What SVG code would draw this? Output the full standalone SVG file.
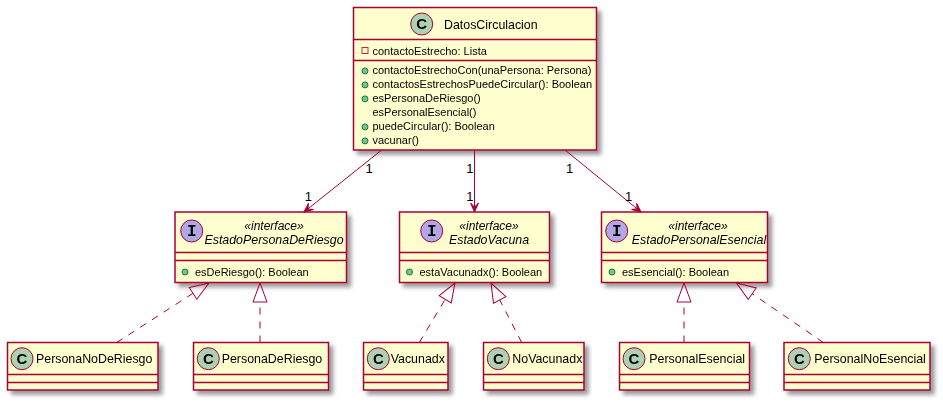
<svg xmlns="http://www.w3.org/2000/svg" width="943" height="403" viewBox="0 0 943 403">
<defs>
<filter id="sh" x="-10%" y="-10%" width="130%" height="140%">
<feGaussianBlur in="SourceAlpha" stdDeviation="2"/>
<feOffset dx="4" dy="4" result="o"/>
<feComponentTransfer><feFuncA type="linear" slope="0.4"/></feComponentTransfer>
<feMerge><feMergeNode/><feMergeNode in="SourceGraphic"/></feMerge>
</filter>
<marker id="arr" viewBox="-10 -5 11 10" refX="0" refY="0" markerWidth="11" markerHeight="10" markerUnits="userSpaceOnUse" orient="auto" overflow="visible">
<path d="M0,0 L-9,-4 L-5,0 L-9,4 Z" fill="#A80036" stroke="#A80036" stroke-width="1"/>
</marker>
<marker id="tri" viewBox="0 -8 20 16" refX="0" refY="0" markerWidth="20" markerHeight="16" markerUnits="userSpaceOnUse" orient="auto" overflow="visible">
<path d="M0,-7 L19,0 L0,7 Z" fill="none" stroke="#A80036" stroke-width="1"/>
</marker>
</defs>
<style>
.box{fill:#FEFECE;stroke:#A80036;stroke-width:1.5;}
.sep{stroke:#A80036;stroke-width:1.5;}
.cc{fill:#ADD1B2;stroke:#A80036;stroke-width:1;}
.ci{fill:#B4A7E5;stroke:#A80036;stroke-width:1;}
.lc{font-family:"Liberation Sans",Arial,sans-serif;font-weight:bold;font-size:15px;fill:#000;text-anchor:middle;}
.li{font-family:"Liberation Mono","Courier New",monospace;font-weight:bold;font-size:16px;fill:#000;text-anchor:middle;}
.nm{font-family:"Liberation Sans",Arial,sans-serif;font-size:12.4px;fill:#000;}
.it{font-family:"Liberation Sans",Arial,sans-serif;font-size:12.4px;font-style:italic;fill:#000;text-anchor:middle;}
.st{font-family:"Liberation Sans",Arial,sans-serif;font-size:12px;font-style:italic;fill:#000;text-anchor:middle;}
.mb{font-family:"Liberation Sans",Arial,sans-serif;font-size:11px;fill:#000;}
.pub{fill:#84BE84;stroke:#038048;stroke-width:1;}
.priv{fill:none;stroke:#C82930;stroke-width:1;}
.as{fill:none;stroke:#A80036;stroke-width:1;}
.re{fill:none;stroke:#A80036;stroke-width:1;stroke-dasharray:7,7;}
.lbl{font-family:"Liberation Sans",Arial,sans-serif;font-size:13px;fill:#000;}
</style>

<g id="DatosCirculacion" filter="url(#sh)">
<rect class="box" x="353.5" y="7.5" width="243" height="142.5"/>
<circle class="cc" cx="421.7" cy="24" r="11"/>
<text class="lc" x="421.7" y="29.3">C</text>
<text class="nm" x="444" y="28.5">DatosCirculacion</text>
<line class="sep" x1="353.5" y1="39.5" x2="596.5" y2="39.5"/>
<rect class="priv" x="362" y="47.5" width="6" height="6"/>
<text class="mb" x="372.5" y="54.7">contactoEstrecho: Lista</text>
<line class="sep" x1="353.5" y1="60.5" x2="596.5" y2="60.5"/>
<circle class="pub" cx="365" cy="70.9" r="3"/>
<text class="mb" x="372.5" y="74.4">contactoEstrechoCon(unaPersona: Persona)</text>
<circle class="pub" cx="365" cy="84.9" r="3"/>
<text class="mb" x="372.5" y="88.4">contactosEstrechosPuedeCircular(): Boolean</text>
<circle class="pub" cx="365" cy="98.9" r="3"/>
<text class="mb" x="372.5" y="102.4">esPersonaDeRiesgo()</text>
<text class="mb" x="372.5" y="116.4">esPersonalEsencial()</text>
<circle class="pub" cx="365" cy="126.9" r="3"/>
<text class="mb" x="372.5" y="130.4">puedeCircular(): Boolean</text>
<circle class="pub" cx="365" cy="140.9" r="3"/>
<text class="mb" x="372.5" y="144.4">vacunar()</text>
</g>

<g id="EstadoPersonaDeRiesgo" filter="url(#sh)">
<rect class="box" x="175" y="212" width="171.5" height="70.5"/>
<circle class="ci" cx="191.7" cy="231" r="11"/>
<text class="li" x="191.7" y="236.3">I</text>
<text class="st" x="274" y="229.5">«interface»</text>
<text class="it" x="274" y="243.5">EstadoPersonaDeRiesgo</text>
<line class="sep" x1="175" y1="252.5" x2="346.5" y2="252.5"/>
<line class="sep" x1="175" y1="260.5" x2="346.5" y2="260.5"/>
<circle class="pub" cx="185" cy="272" r="3"/>
<text class="mb" x="195" y="275.5">esDeRiesgo(): Boolean</text>
</g>

<g id="EstadoVacuna" filter="url(#sh)">
<rect class="box" x="399.5" y="212" width="150" height="70.5"/>
<circle class="ci" cx="431.7" cy="231" r="11"/>
<text class="li" x="431.7" y="236.3">I</text>
<text class="st" x="489" y="229.5">«interface»</text>
<text class="it" x="489" y="243.5">EstadoVacuna</text>
<line class="sep" x1="399.5" y1="252.5" x2="549.5" y2="252.5"/>
<line class="sep" x1="399.5" y1="260.5" x2="549.5" y2="260.5"/>
<circle class="pub" cx="409.5" cy="272" r="3"/>
<text class="mb" x="419.5" y="275.5">estaVacunadx(): Boolean</text>
</g>

<g id="EstadoPersonalEsencial" filter="url(#sh)">
<rect class="box" x="601.5" y="212" width="166" height="70.5"/>
<circle class="ci" cx="616.7" cy="231" r="11"/>
<text class="li" x="616.7" y="236.3">I</text>
<text class="st" x="698" y="229.5">«interface»</text>
<text class="it" x="699" y="243.5">EstadoPersonalEsencial</text>
<line class="sep" x1="601.5" y1="252.5" x2="767.5" y2="252.5"/>
<line class="sep" x1="601.5" y1="260.5" x2="767.5" y2="260.5"/>
<circle class="pub" cx="612" cy="272" r="3"/>
<text class="mb" x="622" y="275.5">esEsencial(): Boolean</text>
</g>

<g id="PersonaNoDeRiesgo" filter="url(#sh)">
<rect class="box" x="7.5" y="342.5" width="150.5" height="47.5"/>
<circle class="cc" cx="22" cy="358.7" r="11"/>
<text class="lc" x="22" y="364">C</text>
<text class="nm" x="36" y="363">PersonaNoDeRiesgo</text>
<line class="sep" x1="7.5" y1="374.5" x2="158" y2="374.5"/>
<line class="sep" x1="7.5" y1="382.5" x2="158" y2="382.5"/>
</g>

<g id="PersonaDeRiesgo" filter="url(#sh)">
<rect class="box" x="193.5" y="342.5" width="135" height="47.5"/>
<circle class="cc" cx="208.3" cy="358.7" r="11"/>
<text class="lc" x="208.3" y="364">C</text>
<text class="nm" x="221.7" y="363">PersonaDeRiesgo</text>
<line class="sep" x1="193.5" y1="374.5" x2="328.5" y2="374.5"/>
<line class="sep" x1="193.5" y1="382.5" x2="328.5" y2="382.5"/>
</g>

<g id="Vacunadx" filter="url(#sh)">
<rect class="box" x="363.5" y="342.5" width="84.5" height="47.5"/>
<circle class="cc" cx="378.3" cy="358.7" r="11"/>
<text class="lc" x="378.3" y="364">C</text>
<text class="nm" x="390.7" y="363">Vacunadx</text>
<line class="sep" x1="363.5" y1="374.5" x2="448" y2="374.5"/>
<line class="sep" x1="363.5" y1="382.5" x2="448" y2="382.5"/>
</g>

<g id="NoVacunadx" filter="url(#sh)">
<rect class="box" x="483.5" y="342.5" width="100.5" height="47.5"/>
<circle class="cc" cx="498.3" cy="358.7" r="11"/>
<text class="lc" x="498.3" y="364">C</text>
<text class="nm" x="512.3" y="363">NoVacunadx</text>
<line class="sep" x1="483.5" y1="374.5" x2="584" y2="374.5"/>
<line class="sep" x1="483.5" y1="382.5" x2="584" y2="382.5"/>
</g>

<g id="PersonalEsencial" filter="url(#sh)">
<rect class="box" x="619.5" y="342.5" width="130" height="47.5"/>
<circle class="cc" cx="634" cy="358.7" r="11"/>
<text class="lc" x="634" y="364">C</text>
<text class="nm" x="649.3" y="363">PersonalEsencial</text>
<line class="sep" x1="619.5" y1="374.5" x2="749.5" y2="374.5"/>
<line class="sep" x1="619.5" y1="382.5" x2="749.5" y2="382.5"/>
</g>

<g id="PersonalNoEsencial" filter="url(#sh)">
<rect class="box" x="784" y="342.5" width="146" height="47.5"/>
<circle class="cc" cx="799.3" cy="358.7" r="11"/>
<text class="lc" x="799.3" y="364">C</text>
<text class="nm" x="814.3" y="363">PersonalNoEsencial</text>
<line class="sep" x1="784" y1="374.5" x2="930" y2="374.5"/>
<line class="sep" x1="784" y1="382.5" x2="930" y2="382.5"/>
</g>

<g id="connectors">
<line class="as" x1="381.7" y1="150" x2="304" y2="212" marker-end="url(#arr)"/>
<line class="as" x1="474.5" y1="150" x2="474.5" y2="212" marker-end="url(#arr)"/>
<line class="as" x1="565" y1="150" x2="641" y2="212" marker-end="url(#arr)"/>
<text class="lbl" x="365.5" y="172.7">1</text>
<text class="lbl" x="304.8" y="200.7">1</text>
<text class="lbl" x="466.3" y="172.7">1</text>
<text class="lbl" x="466.3" y="200.7">1</text>
<text class="lbl" x="566" y="172.7">1</text>
<text class="lbl" x="625" y="200.7">1</text>
<line class="re" x1="116.7" y1="342.5" x2="193" y2="293.3" marker-end="url(#tri)"/>
<line class="re" x1="260" y1="342.5" x2="260" y2="302" marker-end="url(#tri)"/>
<line class="re" x1="419.3" y1="342.5" x2="445.2" y2="299.3" marker-end="url(#tri)"/>
<line class="re" x1="521.7" y1="342.5" x2="499.7" y2="299.9" marker-end="url(#tri)"/>
<line class="re" x1="684" y1="342.5" x2="684" y2="302" marker-end="url(#tri)"/>
<line class="re" x1="823.3" y1="342.5" x2="752.2" y2="293.7" marker-end="url(#tri)"/>
</g>
</svg>
